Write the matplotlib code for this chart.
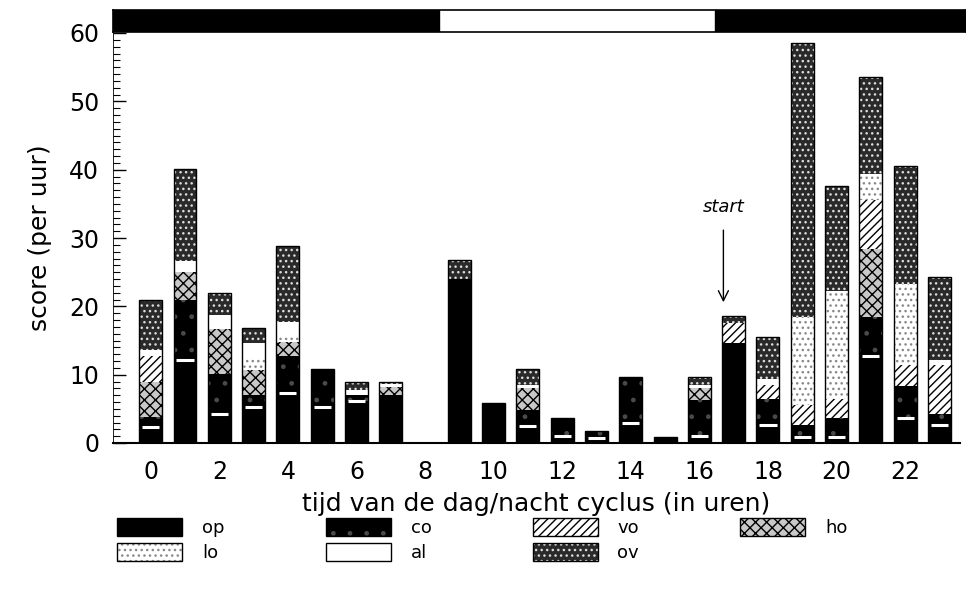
import matplotlib
matplotlib.use("Agg")
import matplotlib.pyplot as plt
import numpy as np
from matplotlib.patches import Rectangle

hours = list(range(24))
xtick_labels = [str(h) for h in range(0, 24, 2)]
categories = ["op", "co", "ho", "vo", "lo", "al", "ov"]

op = [2.4, 12.2, 4.2, 5.3, 7.3, 5.3, 6.2, 7.0, 0, 24.0, 5.8, 2.5, 1.0, 0.8, 3.0, 0.9, 1.0, 14.6, 2.6, 0.9, 0.9, 12.7, 3.6, 2.6]
co = [1.4, 8.7, 5.9, 1.7, 5.5, 5.6, 0.8, 0, 0, 0, 0, 2.3, 2.6, 0.9, 6.6, 0, 5.3, 0, 3.9, 1.7, 2.7, 5.8, 4.7, 1.7]
ho = [5.1, 4.1, 6.6, 3.7, 2.0, 0, 0, 1.2, 0, 0, 0, 3.2, 0, 0, 0, 0, 1.7, 0, 0, 0, 0, 9.9, 0, 0]
vo = [3.9, 0, 0, 0, 0, 0, 0, 0, 0, 0, 0, 0, 0, 0, 0, 0, 0, 2.9, 2.0, 2.9, 2.8, 7.1, 3.1, 7.1]
lo = [0, 0, 0, 1.9, 1.0, 0, 0, 0, 0, 0, 0, 0, 0, 0, 0, 0, 0, 0, 0, 12.9, 15.9, 3.9, 11.9, 0]
al = [0.8, 1.7, 2.1, 2.0, 1.9, 0, 0.7, 0.4, 0, 0, 0, 0.5, 0, 0, 0, 0, 0.5, 0, 0.9, 0, 0, 0, 0, 0.7]
ov = [7.3, 13.4, 3.1, 2.2, 11.2, 0, 1.2, 0.3, 0, 2.8, 0, 2.3, 0, 0, 0, 0, 1.1, 1.1, 6.1, 40.2, 15.3, 14.2, 17.3, 12.2]

light_on, light_off = 8.4, 16.45
start_hour, start_score = 16.7, 20.6

styles = {
    "op": dict(facecolor="black", hatch=None, hc="black"),
    "co": dict(facecolor="black", hatch=".", hc="#4a4a4a"),
    "ho": dict(facecolor="#c8c8c8", hatch="xxx", hc="black"),
    "vo": dict(facecolor="white", hatch="////", hc="black"),
    "lo": dict(facecolor="white", hatch="...", hc="#888888"),
    "al": dict(facecolor="white", hatch=None, hc="white"),
    "ov": dict(facecolor="#2a2a2a", hatch="...", hc="#dddddd"),
}

plt.rcParams["font.family"] = ["DejaVu Sans"]
plt.rcParams["hatch.linewidth"] = 1.0

W, H = 966, 611
fig = plt.figure(figsize=(W / 100, H / 100), dpi=100)
ax = fig.add_axes([113 / W, 1 - 443 / H, (960 - 113) / W, (443 - 33) / H])

x = np.array(hours)
width = 0.67
bottom = np.zeros(len(hours))
data = {"op": op, "co": co, "ho": ho, "vo": vo, "lo": lo, "al": al, "ov": ov}
handles = {}
for cat in categories:
    vals = np.array(data[cat])
    st = styles[cat]
    ax.bar(x, vals, width, bottom=bottom, color=st["facecolor"], hatch=st["hatch"],
           edgecolor=st["hc"], linewidth=0)
    bottom += vals
    fill = Rectangle((0, 0), 1, 1, facecolor=st["facecolor"], hatch=st["hatch"],
                     edgecolor=st["hc"], linewidth=0)
    outline = Rectangle((0, 0), 1, 1, fill=False, edgecolor="black", linewidth=1.0)
    handles[cat] = (fill, outline)

# outlines
ax.bar(x, bottom, width, fill=False, edgecolor="black", linewidth=1.0)
# white separator between op and co
opa = np.array(op)
coa = np.array(co)
mask = (coa > 0) & (opa > 0)
ax.hlines(opa[mask], x[mask] - 0.25, x[mask] + 0.25, colors="white", linewidth=2.2)

ax.set_xlim(-1.1, 23.6)
ax.set_ylim(0, 60)
ax.set_xticks(range(0, 24, 2))
ax.set_xticklabels(xtick_labels, fontsize=17)
ax.tick_params(axis="x", length=0, pad=12)
ax.set_yticks(range(0, 61, 10))
ax.set_yticks(range(0, 61, 1), minor=True)
ax.tick_params(axis="y", which="major", direction="in", length=9, width=1, labelsize=17, pad=10)
ax.tick_params(axis="y", which="minor", direction="in", length=5, width=0.8)
for s in ["top", "right"]:
    ax.spines[s].set_visible(False)
ax.spines["bottom"].set_linewidth(1.5)
ax.spines["left"].set_linewidth(0.6)

ax.set_ylabel("score (per uur)", fontsize=18, labelpad=12)
ax.set_xlabel("tijd van de dag/nacht cyclus (in uren)", fontsize=18, labelpad=6)

ax.annotate("start", xy=(start_hour, start_score), xytext=(start_hour, 34.5),
            ha="center", va="center", fontsize=13, style="italic",
            arrowprops=dict(arrowstyle="->", color="black", lw=1, shrinkA=8, shrinkB=0,
                            mutation_scale=18))

# top light/dark band
band = fig.add_axes([113 / W, 1 - 32 / H, (966 - 113) / W, 22 / H])
band.set_xlim(-1.1, -1.1 + (966 - 113) / 34.29)
band.set_ylim(0, 1)
band.axvspan(-1.1, light_on, color="black")
band.axvspan(light_off, 30, color="black")
band.set_xticks([])
band.set_yticks([])
for s in band.spines.values():
    s.set_linewidth(1.2)

# legend
order = ["op", "lo", "co", "al", "vo", "ov", "ho"]
leg = fig.legend([handles[c] for c in order], order, loc="upper left",
                 bbox_to_anchor=(101 / W, 1 - 502 / H), ncol=4, frameon=False,
                 handlelength=3.6, handleheight=1.15, handletextpad=1.1,
                 columnspacing=5.6, fontsize=13, labelspacing=0.3)

fig.savefig("out.png", dpi=100)
